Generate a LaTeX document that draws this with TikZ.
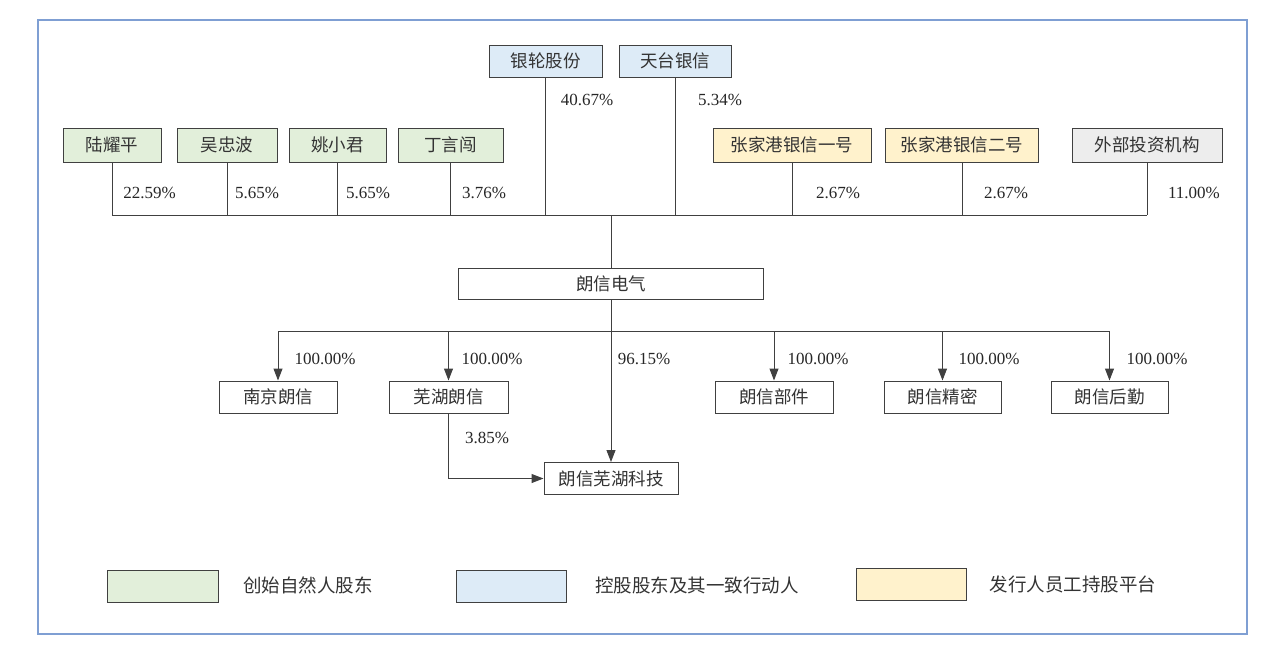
\documentclass[tikz,border=0pt]{standalone}
\usepackage{fontspec}
\setmainfont{Liberation Serif}
\newfontfamily\cjk{Noto Sans CJK SC}
\usetikzlibrary{arrows.meta}
\definecolor{gfill}{HTML}{E2EFDA}
\definecolor{bfill}{HTML}{DDEBF7}
\definecolor{yfill}{HTML}{FFF2CC}
\definecolor{xfill}{HTML}{EDEDED}
\definecolor{frameblue}{HTML}{7F9FD3}
\definecolor{linegray}{HTML}{404040}
\definecolor{txt}{HTML}{333333}
\tikzset{
  box/.style={draw=linegray, line width=1pt, inner sep=0pt, minimum height=32pt,
    font=\cjk\fontsize{17.5}{17.5}\selectfont, text=txt},
  pct/.style={font=\fontsize{17}{17}\selectfont, text=black!85, inner sep=0pt},
  leg/.style={font=\cjk\fontsize{18.5}{18.5}\selectfont, text=txt, inner sep=0pt},
  conn/.style={draw=linegray, line width=1pt},
  arr/.style={conn, -{Triangle[length=12pt,width=9pt]}},
}
\begin{document}
\begin{tikzpicture}[x=1pt,y=-1pt]
\useasboundingbox (0,0) rectangle (1267,654);
\draw[frameblue, line width=1.5pt] (38,20) rectangle (1247,634);

% top row
\node[box, fill=bfill, minimum width=113pt] (yl) at (545.5,61) {银轮股份};
\node[box, fill=bfill, minimum width=112pt] (tt) at (675,61) {天台银信};
% second row
\node[box, fill=gfill, minimum width=98pt, minimum height=34pt] (lyp) at (112,145) {陆耀平};
\node[box, fill=gfill, minimum width=100pt, minimum height=34pt] (wzb) at (227,145) {吴忠波};
\node[box, fill=gfill, minimum width=97pt, minimum height=34pt] (yxj) at (337.5,145) {姚小君};
\node[box, fill=gfill, minimum width=105pt, minimum height=34pt] (dyc) at (450.5,145) {丁言闯};
\node[box, fill=yfill, minimum width=158pt, minimum height=34pt] (zj1) at (792,145) {张家港银信一号};
\node[box, fill=yfill, minimum width=153pt, minimum height=34pt] (zj2) at (962,145) {张家港银信二号};
\node[box, fill=xfill, minimum width=150pt, minimum height=34pt] (wb) at (1147,145) {外部投资机构};

% center
\node[box, minimum width=305pt, minimum height=31pt] (lxdq) at (611,283.5) {朗信电气};

% subsidiaries
\node[box, minimum width=118pt] (nj) at (278,397) {南京朗信};
\node[box, minimum width=119pt] (wh) at (448.5,397) {芜湖朗信};
\node[box, minimum width=118pt] (bj) at (774,397) {朗信部件};
\node[box, minimum width=117pt] (jm) at (942.5,397) {朗信精密};
\node[box, minimum width=117pt] (hq) at (1109.5,397) {朗信后勤};
\node[box, minimum width=134pt] (kj) at (611,478.5) {朗信芜湖科技};

% shareholder bus
\coordinate (busy) at (0,215);
\foreach \n in {lyp,wzb,yxj,dyc,yl,tt,zj1,zj2,wb}{
  \draw[conn] (\n.south) -- (\n.south |- busy);
}
\draw[conn] (lyp.south |- busy) -- (wb.south |- busy);
\draw[conn] (lxdq.north |- busy) -- (lxdq.north);

% subsidiary bus
\coordinate (suby) at (0,331);
\draw[conn] (nj.north |- suby) -- (hq.north |- suby);
\foreach \n in {nj,wh,bj,jm,hq}{
  \draw[arr] (\n.north |- suby) -- (\n.north);
}
\draw[arr] (lxdq.south) -- (kj.north);
\draw[arr] (wh.south) |- (kj.west);

% percentages
\node[pct] at (149.5,193) {22.59\%};
\node[pct] at (257,193) {5.65\%};
\node[pct] at (368,193) {5.65\%};
\node[pct] at (484,193) {3.76\%};
\node[pct] at (587,100) {40.67\%};
\node[pct] at (720,100) {5.34\%};
\node[pct] at (838,193) {2.67\%};
\node[pct] at (1006,193) {2.67\%};
\node[pct] at (1194,193) {11.00\%};
\node[pct] at (325,359) {100.00\%};
\node[pct] at (492,359) {100.00\%};
\node[pct] at (644,359) {96.15\%};
\node[pct] at (818,359) {100.00\%};
\node[pct] at (989,359) {100.00\%};
\node[pct] at (1157,359) {100.00\%};
\node[pct] at (487,438) {3.85\%};

% legend
\node[box, fill=gfill, minimum width=111pt] (lg) at (162.5,586) {};
\node[box, fill=bfill, minimum width=110pt] (lb) at (511,586) {};
\node[box, fill=yfill, minimum width=110pt] (ly) at (911,584) {};
\node[leg] (lgt) at (308,585) {创始自然人股东};
\node[leg] (lbt) at (697,585) {控股股东及其一致行动人};
\node[leg] (lyt) at (1073,584) {发行人员工持股平台};
\end{tikzpicture}
\end{document}
